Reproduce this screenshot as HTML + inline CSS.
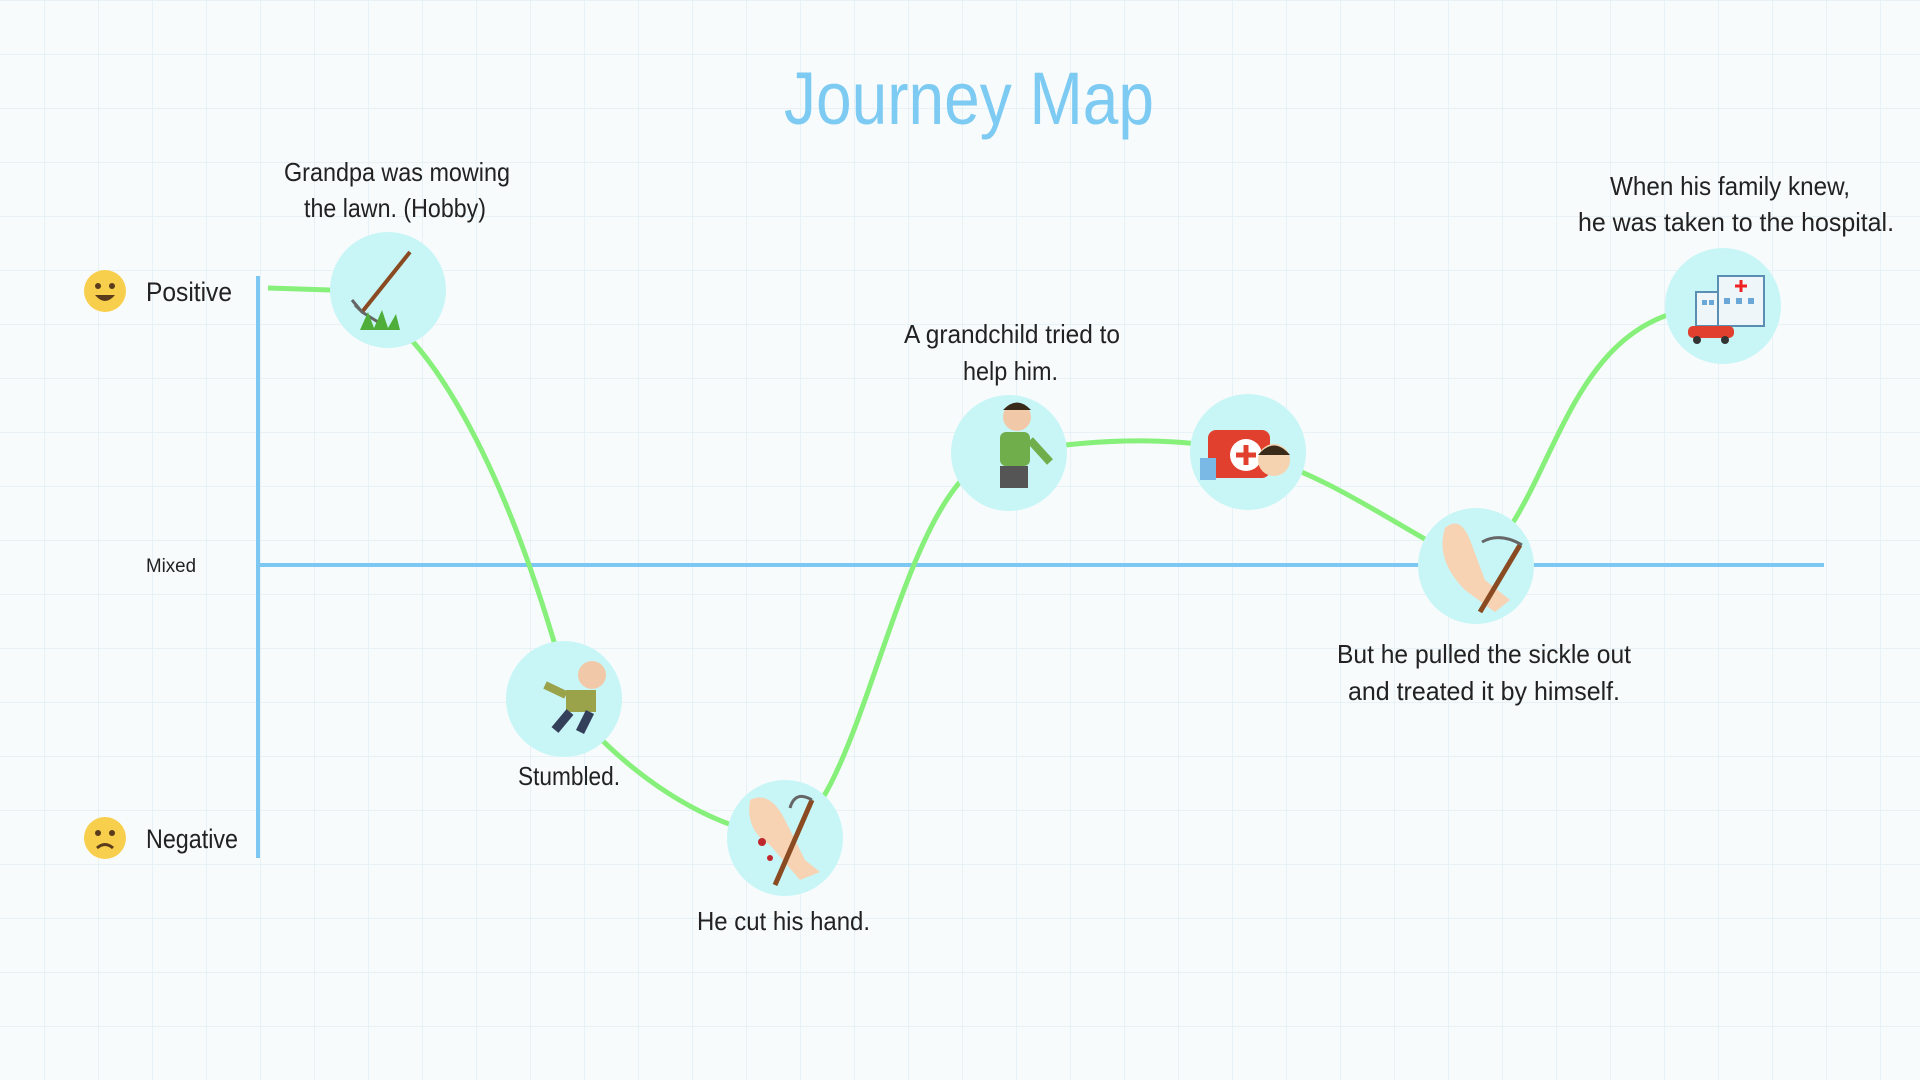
<!DOCTYPE html>
<html><head><meta charset="utf-8"><style>
html,body{margin:0;padding:0;width:1920px;height:1080px;overflow:hidden;background:#f7fbfc;}
svg{display:block}
text{font-family:"Liberation Sans Narrow","Liberation Sans",sans-serif;fill:#222;}
</style></head><body>
<svg width="1920" height="1080" viewBox="0 0 1920 1080" xmlns="http://www.w3.org/2000/svg">
<defs>
<pattern id="g" x="44" y="0" width="54" height="54" patternUnits="userSpaceOnUse">
<path d="M0 0V54M0 0H54" stroke="#e4eef3" stroke-width="1.5" fill="none"/>
</pattern>
</defs>
<rect width="1920" height="1080" fill="#f7fbfc"/>
<rect width="1920" height="1080" fill="url(#g)"/>
<text x="784" y="124" font-size="74" textLength="370" lengthAdjust="spacingAndGlyphs" style="fill:#7dcaf2">Journey Map</text>

<line x1="258" y1="276" x2="258" y2="858" stroke="#7cc8f2" stroke-width="4"/>
<line x1="258" y1="565" x2="1824" y2="565" stroke="#7cc8f2" stroke-width="4"/>

<path d="M268,288 L330,290 C420,300 500,460 555,645 M564,699 C640,790 720,830 785,838 C870,800 900,460 1009,453 C1100,437 1180,437 1248,452 C1340,480 1400,530 1476,566 C1560,500 1560,306 1723,306" stroke="#86f07a" stroke-width="5" fill="none"/>

<g transform="translate(105,291)">
<circle r="21" fill="#f8cf4c"/><circle cx="-7" cy="-5" r="3" fill="#5a3b1c"/><circle cx="7" cy="-5" r="3" fill="#5a3b1c"/>
<path d="M-10,4 Q0,16 10,4 Z" fill="#5a3b1c"/></g>
<text x="146" y="301" font-size="27" textLength="86" lengthAdjust="spacingAndGlyphs">Positive</text>
<text x="146" y="572" font-size="19" textLength="50" lengthAdjust="spacingAndGlyphs">Mixed</text>
<g transform="translate(105,838)">
<circle r="21" fill="#f8cf4c"/><circle cx="-7" cy="-5" r="3" fill="#5a3b1c"/><circle cx="7" cy="-5" r="3" fill="#5a3b1c"/>
<path d="M-8,10 Q0,3 8,10" stroke="#5a3b1c" stroke-width="3" fill="none"/></g>
<text x="146" y="848" font-size="27" textLength="92" lengthAdjust="spacingAndGlyphs">Negative</text>

<g fill="#c8f6f7">
<circle cx="388" cy="290" r="58"/><circle cx="564" cy="699" r="58"/><circle cx="785" cy="838" r="58"/>
<circle cx="1009" cy="453" r="58"/><circle cx="1248" cy="452" r="58"/><circle cx="1476" cy="566" r="58"/>
<circle cx="1723" cy="306" r="58"/>
</g>
<g><line x1="410" y1="252" x2="362" y2="312" stroke="#8a4b22" stroke-width="4"/><path d="M362,312 L355,305 M352,300 L362,312 L378,322" stroke="#666" stroke-width="3" fill="none"/>
<path d="M360,330 L368,312 L374,328 L382,310 L388,328 L396,314 L400,330 Z" fill="#4fae3a"/></g>
<g><circle cx="592" cy="675" r="14" fill="#f1c9a8"/><rect x="566" y="690" width="30" height="22" fill="#9aa34a"/><path d="M570,712 L555,730 M590,712 L580,732" stroke="#34405a" stroke-width="9"/><path d="M566,695 L545,685" stroke="#9aa34a" stroke-width="8"/></g>
<g><path d="M750,800 Q770,790 785,820 L805,860 L820,872 L800,880 L770,845 Q745,830 750,800Z" fill="#f7d3b4"/><line x1="812" y1="800" x2="775" y2="885" stroke="#8a4b22" stroke-width="5"/><path d="M812,800 Q795,790 790,808" stroke="#666" stroke-width="3" fill="none"/><circle cx="762" cy="842" r="4" fill="#c0272d"/><circle cx="770" cy="858" r="3" fill="#c0272d"/></g>
<g><circle cx="1017" cy="417" r="14" fill="#f1c9a8"/><path d="M1003,410 Q1017,395 1031,410" fill="#3a2a1a"/><rect x="1000" y="432" width="30" height="34" rx="6" fill="#6fae4a"/><path d="M1030,440 L1050,462" stroke="#6fae4a" stroke-width="8"/><rect x="1000" y="466" width="28" height="22" fill="#555"/></g>
<g><rect x="1208" y="430" width="62" height="48" rx="8" fill="#e2402e"/><circle cx="1246" cy="455" r="16" fill="#fff"/><path d="M1246,445V465M1236,455H1256" stroke="#e2402e" stroke-width="5"/><circle cx="1274" cy="460" r="16" fill="#f6d3b0"/><path d="M1258,455 Q1274,436 1290,455" fill="#3a2a1a"/><rect x="1200" y="458" width="16" height="22" fill="#7ab8e6"/></g>
<g><path d="M1445,528 Q1460,515 1470,540 L1485,580 L1510,600 L1495,612 L1465,590 Q1435,560 1445,528Z" fill="#f7d3b4"/><line x1="1520" y1="545" x2="1480" y2="612" stroke="#8a4b22" stroke-width="5"/><path d="M1522,545 Q1500,532 1482,542" stroke="#666" stroke-width="3" fill="none"/></g>
<g><rect x="1718" y="276" width="46" height="50" fill="#eef6fa" stroke="#5a8fb3" stroke-width="2"/><rect x="1696" y="292" width="22" height="34" fill="#eef6fa" stroke="#5a8fb3" stroke-width="2"/><path d="M1741,280V292M1735,286H1747" stroke="#e22" stroke-width="3"/><g fill="#6aa6d6"><rect x="1724" y="298" width="6" height="6"/><rect x="1736" y="298" width="6" height="6"/><rect x="1748" y="298" width="6" height="6"/><rect x="1702" y="300" width="5" height="5"/><rect x="1709" y="300" width="5" height="5"/></g><rect x="1688" y="326" width="46" height="12" rx="5" fill="#e2402e"/><circle cx="1697" cy="340" r="4" fill="#333"/><circle cx="1725" cy="340" r="4" fill="#333"/></g>

<g font-size="26" lengthAdjust="spacingAndGlyphs">
<text x="284" y="181" textLength="226" lengthAdjust="spacingAndGlyphs">Grandpa was mowing</text>
<text x="304" y="217" textLength="182" lengthAdjust="spacingAndGlyphs">the lawn. (Hobby)</text>
<text x="518" y="785" textLength="102" lengthAdjust="spacingAndGlyphs">Stumbled.</text>
<text x="697" y="930" textLength="173" lengthAdjust="spacingAndGlyphs">He cut his hand.</text>
<text x="904" y="343" textLength="216" lengthAdjust="spacingAndGlyphs">A grandchild tried to</text>
<text x="963" y="380" textLength="95" lengthAdjust="spacingAndGlyphs">help him.</text>
<text x="1337" y="663" textLength="294" lengthAdjust="spacingAndGlyphs">But he pulled the sickle out</text>
<text x="1348" y="700" textLength="272" lengthAdjust="spacingAndGlyphs">and treated it by himself.</text>
<text x="1610" y="195" textLength="240" lengthAdjust="spacingAndGlyphs">When his family knew,</text>
<text x="1578" y="231" textLength="316" lengthAdjust="spacingAndGlyphs">he was taken to the hospital.</text>
</g>
</svg>
</body></html>
